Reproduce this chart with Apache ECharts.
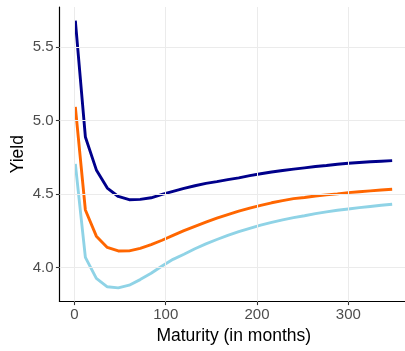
<!DOCTYPE html>
<html>
<head>
<meta charset="utf-8">
<script src="https://cdn.jsdelivr.net/npm/echarts@6/dist/echarts.min.js"></script>
<style>
html,body{margin:0;padding:0;background:#fff;}
#chart{width:405px;height:351px;}
</style>
</head>
<body>
<div id="chart"></div>
<script>
var months = [1,12,24,36,48,60,72,84,96,108,120,132,144,156,168,180,192,204,216,228,240,252,264,276,288,300,312,324,336,348];
var yieldDarkBlue = [5.68,4.888,4.664,4.54,4.483,4.461,4.463,4.474,4.497,4.518,4.538,4.556,4.572,4.584,4.598,4.61,4.625,4.638,4.65,4.66,4.669,4.678,4.687,4.694,4.702,4.709,4.714,4.719,4.723,4.727];
var yieldOrange = [5.093,4.391,4.213,4.136,4.112,4.113,4.13,4.155,4.185,4.218,4.25,4.28,4.308,4.335,4.36,4.383,4.404,4.423,4.44,4.455,4.468,4.476,4.486,4.494,4.501,4.509,4.515,4.521,4.527,4.532];
var yieldLightBlue = [4.705,4.068,3.925,3.868,3.861,3.879,3.917,3.96,4.01,4.055,4.09,4.127,4.16,4.19,4.218,4.243,4.266,4.288,4.307,4.324,4.339,4.352,4.366,4.378,4.389,4.398,4.407,4.415,4.423,4.43];
var xTicks = [0,100,200,300];
var yTicks = [4.0,4.5,5.0,5.5];
var yTickLabels = ['4.0','4.5','5.0','5.5'];

function pairs(xs, ys){ return xs.map(function(x,i){ return [x, ys[i]]; }); }

var gridMarks = [];
yTicks.forEach(function(v){ gridMarks.push({yAxis: v}); });
xTicks.forEach(function(v){ gridMarks.push({xAxis: v}); });

var chart = echarts.init(document.getElementById('chart'), null, {renderer:'canvas'});
chart.setOption({
  animation: false,
  backgroundColor: '#ffffff',
  grid: {left: 59.5, right: -3, top: 7, bottom: 49.5, containLabel: false, outerBoundsMode: 'none'},
  xAxis: {
    type: 'value', min: -16.35, max: 365.35,
    name: 'Maturity (in months)', nameLocation: 'middle', nameGap: 25.5, nameMoveOverlap: false,
    nameTextStyle: {color: '#000', fontSize: 17.5, fontFamily: 'Liberation Sans'},
    axisLine: {show: true, onZero: false, lineStyle: {color: '#000', width: 1.2}},
    axisTick: {show: true, length: 3.6, lineStyle: {color: '#333', width: 1.1}, customValues: xTicks},
    axisLabel: {color: '#4d4d4d', fontSize: 15, fontFamily: 'Liberation Sans', margin: 6, customValues: xTicks},
    splitLine: {show: false}
  },
  yAxis: {
    type: 'value', min: 3.768, max: 5.773,
    name: 'Yield', nameLocation: 'middle', nameGap: 32, nameRotate: 90, nameMoveOverlap: false,
    nameTextStyle: {color: '#000', fontSize: 17.5, fontFamily: 'Liberation Sans'},
    axisLine: {show: true, onZero: false, lineStyle: {color: '#000', width: 1.2}},
    axisTick: {show: true, length: 3.6, lineStyle: {color: '#333', width: 1.1}, customValues: yTicks},
    axisLabel: {color: '#4d4d4d', fontSize: 15, fontFamily: 'Liberation Sans', margin: 6, customValues: yTicks,
      formatter: function(v){ var i = yTicks.indexOf(v); return i >= 0 ? yTickLabels[i] : v.toFixed(1); }},
    splitLine: {show: false}
  },
  series: [
    {
      type: 'line', data: [], z: 1, silent: true,
      markLine: {silent: true, symbol: ['none','none'], label: {show: false},
        lineStyle: {color: '#ebebeb', width: 1, type: 'solid'}, data: gridMarks, animation: false}
    },
    {name: 'Dark blue', type: 'line', data: pairs(months, yieldDarkBlue), showSymbol: false, z: 3,
      lineStyle: {color: '#00008B', width: 2.9}, itemStyle: {color: '#00008B'}},
    {name: 'Orange', type: 'line', data: pairs(months, yieldOrange), showSymbol: false, z: 3,
      lineStyle: {color: '#FF6600', width: 2.9}, itemStyle: {color: '#FF6600'}},
    {name: 'Light blue', type: 'line', data: pairs(months, yieldLightBlue), showSymbol: false, z: 3,
      lineStyle: {color: '#8FD3E6', width: 2.9}, itemStyle: {color: '#8FD3E6'}}
  ]
});
</script>
</body>
</html>
